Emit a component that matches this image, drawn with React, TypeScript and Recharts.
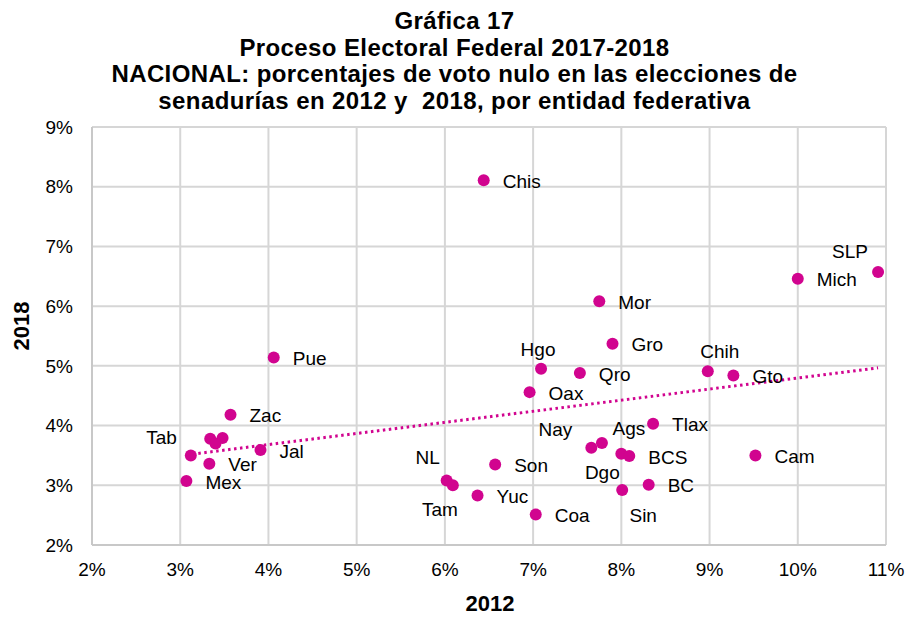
import React from 'react';
import {
  ScatterChart, Scatter, XAxis, YAxis, CartesianGrid, ReferenceLine, Label,
} from 'recharts';

const MAGENTA = '#D1048F';
const FONT = '"Liberation Sans", Arial, sans-serif';

const TITLE_LINES = [
  'Gráfica 17',
  'Proceso Electoral Federal 2017-2018',
  'NACIONAL: porcentajes de voto nulo en las elecciones de',
  'senadurías en 2012 y  2018, por entidad federativa',
];

// entidad, % voto nulo 2012, % voto nulo 2018
const STATES = ['Zac', 'Col', 'CDMX', 'QRoo', 'Tab', 'Ver', 'Mex', 'Jal', 'Pue', 'Chis', 'NL', 'Tam', 'Yuc', 'Son', 'Coa', 'Oax', 'Hgo', 'Qro', 'Mor', 'Gro', 'Nay', 'Ags', 'Dgo', 'BCS', 'Sin', 'BC', 'Tlax', 'Chih', 'Gto', 'Cam', 'Mich', 'SLP'];
const V2012 = [3.57, 3.34, 3.48, 3.40, 3.12, 3.33, 3.07, 3.91, 4.06, 6.44, 6.02, 6.09, 6.37, 6.57, 7.03, 6.96, 7.09, 7.53, 7.75, 7.90, 7.66, 7.78, 8.00, 8.09, 8.01, 8.31, 8.36, 8.98, 9.27, 9.52, 10.0, 10.91];
const V2018 = [4.18, 3.78, 3.79, 3.70, 3.50, 3.36, 3.07, 3.59, 5.14, 8.11, 3.08, 3.00, 2.83, 3.35, 2.51, 4.56, 4.95, 4.88, 6.08, 5.37, 3.63, 3.71, 3.53, 3.49, 2.92, 3.01, 4.03, 4.91, 4.84, 3.50, 6.46, 6.57];
const HIDDEN_LABELS = ['Col', 'CDMX', 'QRoo'];

const X_TICKS = [2, 3, 4, 5, 6, 7, 8, 9, 10, 11];
const Y_TICKS = [2, 3, 4, 5, 6, 7, 8, 9];

const data = STATES.map((name, i) => ({ name, x: V2012[i], y: V2018[i] }));

// linear trendline (least squares), spanning the data range
const n = data.length;
const mx = V2012.reduce((a, b) => a + b, 0) / n;
const my = V2018.reduce((a, b) => a + b, 0) / n;
let sxy = 0, sxx = 0;
data.forEach(d => { sxy += (d.x - mx) * (d.y - my); sxx += (d.x - mx) ** 2; });
const slope = sxy / sxx;
const icpt = my - slope * mx;
const xMin = Math.min(...V2012);
const xMax = Math.max(...V2012);

// label placement: [anchor, dx, dy]
const LABEL_POS: Record<string, [string, number, number]> = {
  Tab: ['end', -14, -18],
  Hgo: ['middle', -3, -19],
  Nay: ['end', -19, -18],
  Ags: ['middle', 27, -14],
  Dgo: ['middle', -19, 19],
  NL: ['middle', -19, -23],
  Tam: ['middle', -13, 24],
  Sin: ['middle', 21, 25],
  Chih: ['middle', 12, -20],
  SLP: ['middle', -28, -21],
};

function Dot(props: any) {
  const { cx, cy, payload } = props;
  const pos = LABEL_POS[payload.name] || ['start', 19, 1];
  const show = !HIDDEN_LABELS.includes(payload.name);
  return (
    <g>
      <circle cx={cx} cy={cy} r={6} fill={MAGENTA} />
      {show && (
        <text x={cx + pos[1]} y={cy + pos[2]} textAnchor={pos[0] as any} dominantBaseline="central"
          fontFamily={FONT} fontSize={19} fill="#000">
          {payload.name}
        </text>
      )}
    </g>
  );
}

export default function App() {
  const tick = { fontFamily: FONT, fontSize: 19, fill: '#000' };
  return (
    <div style={{ position: 'relative', width: 909, height: 617, background: '#fff' }}>
      <style>{'body{margin:0}'}</style>
      <div style={{
        position: 'absolute', top: 8, left: 0, width: 909, textAlign: 'center',
        fontFamily: FONT, fontWeight: 'bold', fontSize: 24, lineHeight: '26.5px', letterSpacing: '0.4px', color: '#000',
      }}>
        {TITLE_LINES.map((t, i) => <div key={i} style={{ whiteSpace: 'pre' }}>{t}</div>)}
      </div>
      <ScatterChart width={909} height={617} margin={{ top: 127, right: 23, bottom: 0, left: 0 }}>
        <CartesianGrid stroke="#D6D6D6" strokeWidth={2} />
        <XAxis type="number" dataKey="x" domain={[2, 11]} ticks={X_TICKS} tickFormatter={v => `${v}%`}
          height={72} tick={tick} tickLine={false} tickSize={0} tickMargin={18}
          axisLine={{ stroke: '#C8C8C8', strokeWidth: 2 }} interval={0}>
          <Label content={() => (
            <text x={490} y={603} textAnchor="middle" dominantBaseline="central"
              fontFamily={FONT} fontWeight="bold" fontSize={22} fill="#000">2012</text>
          )} />
        </XAxis>
        <YAxis type="number" dataKey="y" domain={[2, 9]} ticks={Y_TICKS} tickFormatter={v => `${v}%`}
          width={92} tick={tick} tickLine={false} tickSize={0} tickMargin={19}
          axisLine={{ stroke: '#C8C8C8', strokeWidth: 2 }} interval={0}>
          <Label content={() => (
            <text x={21} y={326} textAnchor="middle" dominantBaseline="central" transform="rotate(-90 21 326)"
              fontFamily={FONT} fontWeight="bold" fontSize={22} fill="#000">2018</text>
          )} />
        </YAxis>
        <ReferenceLine
          segment={[{ x: xMin, y: icpt + slope * xMin }, { x: xMax, y: icpt + slope * xMax }]}
          stroke={MAGENTA} strokeWidth={3} strokeDasharray="2.5 3.5" ifOverflow="visible"
        />
        <Scatter data={data} fill={MAGENTA} shape={Dot} isAnimationActive={false} />
      </ScatterChart>
    </div>
  );
}
